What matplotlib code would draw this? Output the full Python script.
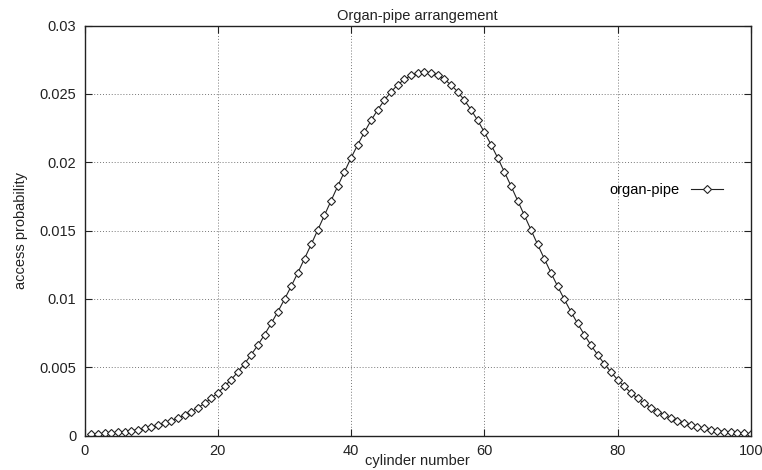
import matplotlib
matplotlib.use("Agg")
import matplotlib.pyplot as plt

plt.rcParams['font.family'] = ['Liberation Sans', 'DejaVu Sans']

cylinders = list(range(1, 101))
probability = [
    0.000103, 0.000128, 0.000159, 0.000196, 0.000241, 0.000296, 0.000360, 0.000437, 0.000528, 0.000635,
    0.000760, 0.000906, 0.00107, 0.00127, 0.00149, 0.00175, 0.00204, 0.00236, 0.00273, 0.00314,
    0.00360, 0.00410, 0.00466, 0.00526, 0.00592, 0.00663, 0.00739, 0.00821, 0.00907, 0.00998,
    0.01093, 0.01192, 0.01295, 0.01399, 0.01506, 0.01613, 0.01720, 0.01827, 0.01931, 0.02033,
    0.02130, 0.02221, 0.02307, 0.02385, 0.02455, 0.02516, 0.02567, 0.02607, 0.02636, 0.02654,
    0.02660, 0.02654, 0.02636, 0.02607, 0.02567, 0.02516, 0.02455, 0.02385, 0.02307, 0.02221,
    0.02130, 0.02033, 0.01931, 0.01827, 0.01720, 0.01613, 0.01506, 0.01399, 0.01295, 0.01192,
    0.01093, 0.00998, 0.00907, 0.00821, 0.00739, 0.00663, 0.00592, 0.00526, 0.00466, 0.00410,
    0.00360, 0.00314, 0.00273, 0.00236, 0.00204, 0.00175, 0.00149, 0.00127, 0.00107, 0.000906,
    0.000760, 0.000635, 0.000528, 0.000437, 0.000360, 0.000296, 0.000241, 0.000196, 0.000159, 0.000128,
]
x_ticks = [0, 20, 40, 60, 80, 100]
y_ticks = [0, 0.005, 0.01, 0.015, 0.02, 0.025, 0.03]
y_tick_labels = ["0", "0.005", "0.01", "0.015", "0.02", "0.025", "0.03"]

fig = plt.figure(figsize=(7.62, 4.70), dpi=100)
ax = fig.add_axes([0.1112, 0.0732, 0.8740, 0.8722])

ax.plot(cylinders, probability, color='#222222', linewidth=0.8,
        marker='D', markersize=4.2, markerfacecolor='white',
        markeredgecolor='#222222', markeredgewidth=0.8, label='organ-pipe')

ax.set_xlim(0, 100)
ax.set_ylim(0, 0.03)
ax.set_xticks(x_ticks)
ax.set_xticklabels([str(v) for v in x_ticks])
ax.set_yticks(y_ticks)
ax.set_yticklabels(y_tick_labels)
ax.tick_params(direction='in', top=True, right=True, length=5, width=0.8,
               labelsize=10.5, colors='#222222', pad=6)
ax.grid(True, linestyle=(0, (1, 2)), color='#777777', linewidth=0.7)
for s in ax.spines.values():
    s.set_linewidth(1.0)
    s.set_color('#222222')

ax.set_title('Organ-pipe arrangement', fontsize=10.5, pad=4, color='#222222')
ax.set_xlabel('cylinder number', fontsize=10.5, labelpad=-2.5, color='#222222')
ax.set_ylabel('access probability', fontsize=10.5, labelpad=8, color='#222222')

ax.legend(loc='center right', bbox_to_anchor=(0.978, 0.60), frameon=False,
          markerfirst=False, fontsize=10.5, handlelength=2.2, handletextpad=0.8)

fig.savefig('out.png', dpi=100)
